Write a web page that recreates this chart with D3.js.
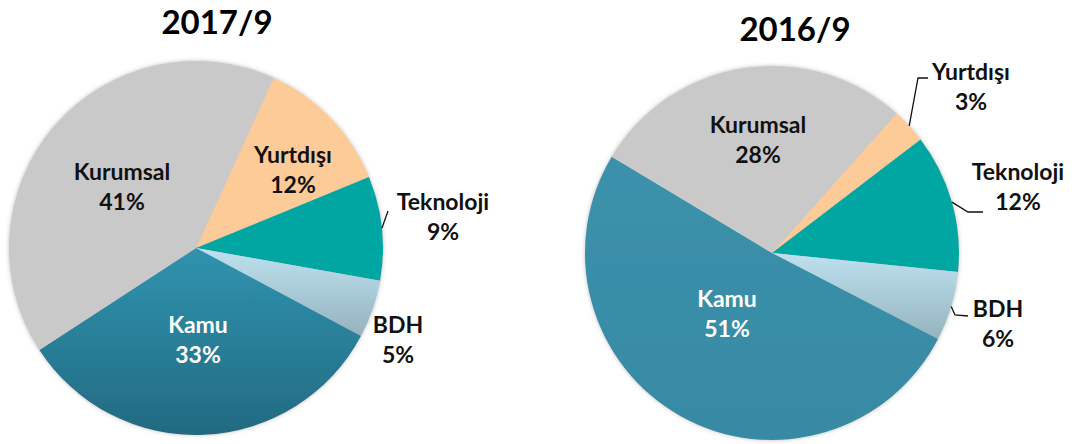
<!DOCTYPE html>
<html>
<head>
<meta charset="utf-8">
<script src="https://cdn.jsdelivr.net/npm/d3@7"></script>
<style>
  body { margin: 0; background: #fff; }
  svg { display: block; font-family: Lato, "Open Sans", sans-serif; }
</style>
</head>
<body>
<div id="chart"></div>
<script>
// data
var categories = ["Yurtdışı", "Teknoloji", "BDH", "Kamu", "Kurumsal"];
var values2017 = [12, 9, 5, 33, 41];
var values2016 = [3, 12, 6, 51, 28];
var titles = ["2017/9", "2016/9"];

var colors = {
  "Yurtdışı": "#FDCB98",
  "Teknoloji": "#05A6A2",
  "Kurumsal": "#C9C9C9"
};

var svg = d3.select("#chart")
  .append("svg")
  .attr("width", 1075)
  .attr("height", 444);

var defs = svg.append("defs");

// soft edge round the pies
var f = defs.append("filter").attr("id", "soft")
  .attr("x", "-10%").attr("y", "-10%").attr("width", "120%").attr("height", "120%");
f.append("feGaussianBlur").attr("in", "SourceAlpha").attr("stdDeviation", 2).attr("result", "b");
f.append("feFlood").attr("flood-color", "#888").attr("flood-opacity", 0.55);
f.append("feComposite").attr("in2", "b").attr("operator", "in").attr("result", "s");
var fm = f.append("feMerge");
fm.append("feMergeNode").attr("in", "s");
fm.append("feMergeNode").attr("in", "SourceGraphic");

function vgrad(id, top, bottom) {
  var g = defs.append("linearGradient").attr("id", id)
    .attr("x1", 0).attr("y1", 0).attr("x2", 0).attr("y2", 1);
  g.append("stop").attr("offset", "0%").attr("stop-color", top);
  g.append("stop").attr("offset", "100%").attr("stop-color", bottom);
}
vgrad("bdh", "#BFE1EF", "#94B3BF");
vgrad("kamu17", "#3093AF", "#226A81");
vgrad("kamu16", "#3B91AB", "#378AA4");

var r = 187;
var deg = Math.PI / 180;

// label layout, offsets from pie centre (first line baseline)
var pies = [
  {
    title: titles[0], values: values2017, cx: 196, cy: 248, start: 24.5,
    tx: 217, ty: 34, kamu: "url(#kamu17)",
    labels: {
      "Kurumsal": [-74, -68], "Yurtdışı": [97, -85], "Teknoloji": [247, -38],
      "BDH": [202, 85], "Kamu": [2, 85]
    },
    leaders: { "Teknoloji": [[192, -37]] }
  },
  {
    title: titles[1], values: values2016, cx: 772, cy: 253, start: 41.8,
    tx: 795, ty: 41, kamu: "url(#kamu16)",
    labels: {
      "Kurumsal": [-14, -120], "Yurtdışı": [199, -173], "Teknoloji": [246, -73],
      "BDH": [226, 64], "Kamu": [-45, 54]
    },
    leaders: {
      "Yurtdışı": [[146, -175], [156, -175]],
      "Teknoloji": [[196, -41], [211, -41]],
      "BDH": [[183, 62], [196, 63]]
    }
  }
];

var arc = d3.arc().innerRadius(0).outerRadius(r);
var edgeArc = d3.arc().innerRadius(r).outerRadius(r);

pies.forEach(function(p) {
  var pie = d3.pie().sort(null)
    .startAngle(p.start * deg)
    .endAngle(p.start * deg + 2 * Math.PI);

  var data = pie(p.values);
  data.forEach(function(d, i) { d.name = categories[i]; });

  var g = svg.append("g").attr("transform", "translate(" + p.cx + "," + p.cy + ")");

  g.append("g").attr("filter", "url(#soft)")
    .selectAll("path")
    .data(data)
    .enter().append("path")
    .attr("d", arc)
    .style("fill", function(d) {
      if (d.name == "BDH") return "url(#bdh)";
      if (d.name == "Kamu") return p.kamu;
      return colors[d.name];
    });

  // leader lines
  data.forEach(function(d) {
    var pts = p.leaders[d.name];
    if (!pts) return;
    var line = [edgeArc.centroid(d)].concat(pts);
    g.append("path")
      .attr("d", d3.line()(line))
      .style("fill", "none")
      .style("stroke", "#111")
      .style("stroke-width", 1.3);
  });

  var lab = g.selectAll(".lab")
    .data(data)
    .enter().append("text")
    .attr("class", "lab")
    .attr("text-anchor", "middle")
    .style("font-weight", "bold")
    .style("font-size", "23px")
    .style("fill", function(d) { return d.name == "Kamu" ? "#fff" : "#111"; });

  lab.append("tspan")
    .attr("x", function(d) { return p.labels[d.name][0]; })
    .attr("y", function(d) { return p.labels[d.name][1]; })
    .text(function(d) { return d.name; });
  lab.append("tspan")
    .attr("x", function(d) { return p.labels[d.name][0]; })
    .attr("y", function(d) { return p.labels[d.name][1] + 30; })
    .text(function(d) { return d.value + "%"; });

  svg.append("text")
    .attr("x", p.tx)
    .attr("y", p.ty)
    .attr("text-anchor", "middle")
    .style("font-weight", "bold")
    .style("font-size", "33px")
    .style("fill", "#000")
    .text(p.title);
});
</script>
</body>
</html>
